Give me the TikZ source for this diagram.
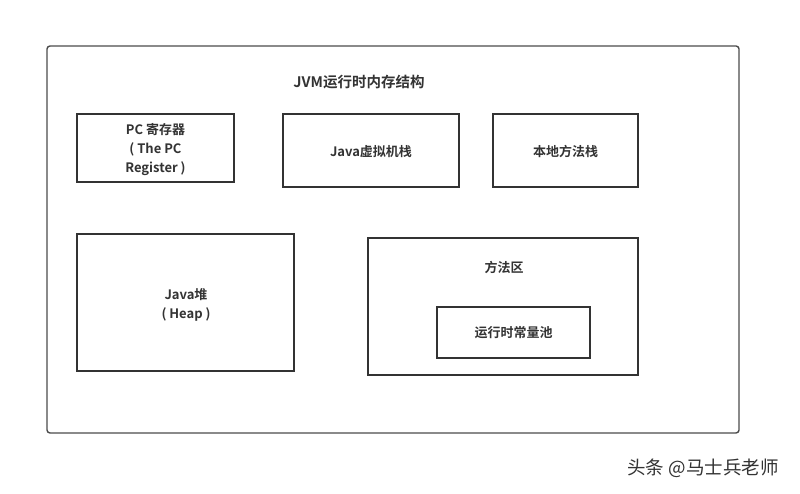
\documentclass[tikz,border=0pt]{standalone}
\usepackage{fontspec}
\setmainfont{Noto Sans CJK SC}[BoldFont={* Bold}]
\newfontfamily\cjk{Noto Sans CJK SC}
\begin{document}
\begin{tikzpicture}[x=1pt,y=-1pt,
  box/.style={draw=black!80,line width=1.4pt},
  lbl/.style={font=\bfseries\fontsize{13}{19}\selectfont,text=black!80,align=center,inner sep=0pt}]
\useasboundingbox[fill=white] (0,0) rectangle (800,494);
\draw[draw=black!70,line width=1.4pt,rounded corners=3pt] (47,46) rectangle (739,433);
\node[lbl,font=\bfseries\fontsize{14.5}{18}\selectfont] (title) at (359,82) {JVM运行时内存结构};
\draw[box] (77,114) rectangle (234,182);
\node[lbl] (pc) at (155.5,149.5) {PC 寄存器\\( The PC\\Register )};
\draw[box] (283,114) rectangle (459,187);
\node[lbl] (jvms) at (371,152) {Java虚拟机栈};
\draw[box] (493,114) rectangle (638,187);
\node[lbl] (nms) at (565.5,152) {本地方法栈};
\draw[box] (77,234) rectangle (294,371);
\node[lbl] (heap) at (186,305) {Java堆\\( Heap )};
\draw[box] (368,238) rectangle (638,375);
\node[lbl] (ma) at (504,268) {方法区};
\draw[box] (437,307) rectangle (590,358);
\node[lbl] (rcp) at (513.5,333) {运行时常量池};
\node[font=\fontsize{18.5}{20}\selectfont,text=black!80,inner sep=0pt] (wm) at (703,468) {头条 @马士兵老师};
\end{tikzpicture}
\end{document}
